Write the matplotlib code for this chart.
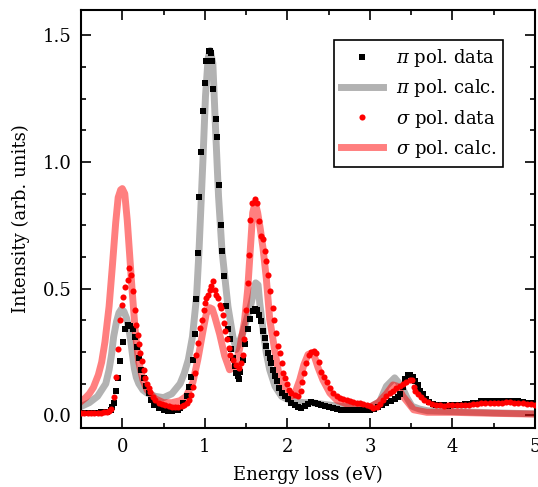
import matplotlib
matplotlib.use("Agg")
import matplotlib.pyplot as plt
from matplotlib.ticker import MultipleLocator

# pi polarisation, measured
pi_x = [-0.50, -0.46, -0.42, -0.38, -0.34, -0.30, -0.26, -0.22, -0.18, -0.14, -0.12, -0.106,
        -0.077, -0.052, -0.024, 0.008, 0.036, 0.065, 0.097, 0.126, 0.15, 0.18, 0.20, 0.23,
        0.26, 0.29, 0.32, 0.35, 0.39, 0.44, 0.50, 0.55, 0.60, 0.64, 0.67, 0.70, 0.74, 0.78,
        0.81, 0.835, 0.855, 0.875, 0.895, 0.915, 0.935, 0.95, 0.975, 1.0, 1.02, 1.045, 1.06,
        1.075, 1.085, 1.105, 1.13, 1.15, 1.17, 1.19, 1.21, 1.23, 1.26, 1.28, 1.30, 1.32, 1.34,
        1.36, 1.38, 1.40, 1.415, 1.43, 1.46, 1.49, 1.52, 1.55, 1.58, 1.61, 1.635, 1.66, 1.685,
        1.705, 1.725, 1.745, 1.765, 1.786, 1.807, 1.83, 1.85, 1.87, 1.90, 1.93, 1.97, 2.01,
        2.05, 2.09, 2.13, 2.17, 2.21, 2.25, 2.29, 2.33, 2.37, 2.41, 2.45, 2.50, 2.55, 2.60,
        2.65, 2.70, 2.75, 2.80, 2.85, 2.90, 2.95, 3.00, 3.05, 3.10, 3.15, 3.20, 3.25, 3.30,
        3.34, 3.37, 3.40, 3.43, 3.46, 3.49, 3.52, 3.55, 3.58, 3.61, 3.64, 3.68, 3.72, 3.76,
        3.80, 3.85, 3.90, 3.95, 4.00, 4.05, 4.10, 4.15, 4.20, 4.25, 4.30, 4.35, 4.40, 4.45,
        4.50, 4.55, 4.60, 4.65, 4.70, 4.75, 4.80, 4.85, 4.90, 4.95, 5.00]
pi_y = [0.010, 0.011, 0.010, 0.011, 0.010, 0.011, 0.012, 0.012, 0.014, 0.022, 0.032, 0.049,
        0.095, 0.148, 0.213, 0.290, 0.340, 0.358, 0.354, 0.340, 0.310, 0.270, 0.226, 0.180,
        0.148, 0.115, 0.088, 0.062, 0.042, 0.029, 0.022, 0.018, 0.018, 0.020, 0.022, 0.030,
        0.050, 0.075, 0.110, 0.150, 0.220, 0.320, 0.460, 0.640, 0.860, 1.040, 1.200, 1.310,
        1.400, 1.440, 1.440, 1.430, 1.400, 1.290, 1.170, 1.100, 0.910, 0.750, 0.650, 0.550,
        0.430, 0.340, 0.300, 0.260, 0.227, 0.193, 0.167, 0.155, 0.145, 0.170, 0.220, 0.280,
        0.340, 0.380, 0.410, 0.420, 0.415, 0.397, 0.371, 0.332, 0.305, 0.272, 0.246, 0.226,
        0.207, 0.180, 0.154, 0.134, 0.108, 0.088, 0.075, 0.066, 0.050, 0.040, 0.032, 0.030,
        0.036, 0.045, 0.052, 0.050, 0.046, 0.042, 0.038, 0.032, 0.028, 0.025, 0.023, 0.022,
        0.022, 0.021, 0.023, 0.022, 0.021, 0.022, 0.026, 0.032, 0.040, 0.050, 0.057, 0.064,
        0.072, 0.085, 0.110, 0.145, 0.158, 0.158, 0.150, 0.134, 0.118, 0.098, 0.083, 0.065,
        0.052, 0.045, 0.042, 0.040, 0.040, 0.038, 0.040, 0.041, 0.042, 0.043, 0.045, 0.047,
        0.050, 0.055, 0.058, 0.058, 0.057, 0.056, 0.055, 0.057, 0.058, 0.056, 0.055, 0.052,
        0.050, 0.049, 0.048]

# sigma polarisation, measured
sig_x = [-0.50, -0.46, -0.42, -0.38, -0.34, -0.30, -0.26, -0.22, -0.18, -0.16, -0.134, -0.106,
         -0.077, -0.052, -0.024, -0.004, 0.012, 0.036, 0.065, 0.085, 0.106, 0.13, 0.15, 0.17,
         0.186, 0.20, 0.22, 0.24, 0.26, 0.28, 0.30, 0.32, 0.34, 0.37, 0.40, 0.44, 0.48, 0.52,
         0.56, 0.60, 0.64, 0.68, 0.72, 0.75, 0.78, 0.81, 0.835, 0.855, 0.875, 0.895, 0.92,
         0.944, 0.964, 0.984, 1.0, 1.02, 1.04, 1.057, 1.078, 1.098, 1.118, 1.139, 1.158, 1.18,
         1.20, 1.215, 1.23, 1.25, 1.27, 1.29, 1.31, 1.34, 1.38, 1.42, 1.44, 1.46, 1.48, 1.50,
         1.52, 1.535, 1.55, 1.576, 1.604, 1.63, 1.656, 1.685, 1.70, 1.725, 1.745, 1.765, 1.795,
         1.82, 1.835, 1.86, 1.89, 1.91, 1.93, 1.95, 1.97, 1.99, 2.02, 2.05, 2.09, 2.13, 2.16,
         2.18, 2.20, 2.23, 2.26, 2.29, 2.32, 2.35, 2.38, 2.41, 2.44, 2.475, 2.515, 2.555, 2.60,
         2.64, 2.68, 2.72, 2.76, 2.80, 2.84, 2.88, 2.92, 2.96, 3.00, 3.04, 3.08, 3.12, 3.16,
         3.20, 3.24, 3.28, 3.32, 3.36, 3.40, 3.44, 3.48, 3.51, 3.53, 3.55, 3.58, 3.62, 3.66,
         3.70, 3.75, 3.80, 3.85, 3.90, 3.95, 4.00, 4.05, 4.10, 4.15, 4.20, 4.25, 4.30, 4.35,
         4.40, 4.45, 4.50, 4.55, 4.60, 4.65, 4.70, 4.75, 4.80, 4.85, 4.90, 4.95, 5.00]
sig_y = [0.010, 0.010, 0.011, 0.010, 0.011, 0.010, 0.011, 0.012, 0.014, 0.016, 0.025, 0.073,
         0.152, 0.263, 0.375, 0.437, 0.466, 0.507, 0.536, 0.580, 0.554, 0.490, 0.417, 0.355,
         0.316, 0.283, 0.246, 0.213, 0.180, 0.148, 0.124, 0.108, 0.091, 0.073, 0.059, 0.049,
         0.043, 0.040, 0.036, 0.034, 0.033, 0.033, 0.036, 0.042, 0.050, 0.062, 0.080, 0.110,
         0.167, 0.240, 0.286, 0.345, 0.378, 0.417, 0.444, 0.463, 0.476, 0.496, 0.509, 0.529,
         0.496, 0.476, 0.463, 0.437, 0.424, 0.397, 0.365, 0.332, 0.300, 0.266, 0.240, 0.220,
         0.200, 0.187, 0.207, 0.240, 0.300, 0.417, 0.523, 0.634, 0.773, 0.838, 0.852, 0.838,
         0.766, 0.707, 0.695, 0.647, 0.608, 0.555, 0.490, 0.424, 0.378, 0.325, 0.272, 0.246,
         0.207, 0.167, 0.148, 0.125, 0.101, 0.088, 0.080, 0.078, 0.095, 0.130, 0.167, 0.207,
         0.240, 0.250, 0.253, 0.245, 0.210, 0.172, 0.150, 0.130, 0.108, 0.088, 0.075, 0.069,
         0.066, 0.062, 0.056, 0.052, 0.050, 0.049, 0.046, 0.042, 0.036, 0.030, 0.033, 0.045,
         0.062, 0.075, 0.088, 0.098, 0.108, 0.115, 0.122, 0.132, 0.138, 0.140, 0.110, 0.095,
         0.086, 0.072, 0.062, 0.054, 0.046, 0.040, 0.039, 0.038, 0.040, 0.040, 0.042, 0.042,
         0.040, 0.040, 0.043, 0.045, 0.047, 0.048, 0.050, 0.050, 0.049, 0.050, 0.051, 0.052,
         0.050, 0.048, 0.047, 0.045, 0.044, 0.042]

# calculated spectra
pi_calc_x = [-0.50, -0.40, -0.30, -0.20, -0.16, -0.13, -0.105, -0.07, -0.04, -0.01, 0.02,
             0.05, 0.08, 0.10, 0.125, 0.146, 0.17, 0.20, 0.25, 0.30, 0.40, 0.50, 0.60, 0.70,
             0.75, 0.80, 0.85, 0.90, 0.93, 0.976, 1.008, 1.04, 1.065, 1.097, 1.13, 1.166,
             1.207, 1.28, 1.34, 1.38, 1.46, 1.56, 1.616, 1.645, 1.665, 1.705, 1.745, 1.786,
             1.85, 1.93, 2.01, 2.10, 2.20, 2.30, 2.40, 2.60, 2.80, 3.00, 3.12, 3.20, 3.30,
             3.385, 3.45, 3.51, 3.60, 3.70, 4.00, 4.50, 5.00]
pi_calc_y = [0.035, 0.050, 0.075, 0.125, 0.180, 0.240, 0.310, 0.370, 0.405, 0.420, 0.410,
             0.385, 0.340, 0.300, 0.235, 0.185, 0.150, 0.125, 0.100, 0.088, 0.075, 0.070,
             0.085, 0.125, 0.165, 0.220, 0.310, 0.470, 0.654, 1.000, 1.260, 1.410, 1.440,
             1.390, 1.130, 0.865, 0.654, 0.430, 0.310, 0.260, 0.325, 0.440, 0.523, 0.515,
             0.444, 0.338, 0.246, 0.180, 0.115, 0.075, 0.062, 0.055, 0.050, 0.050, 0.045,
             0.037, 0.032, 0.032, 0.055, 0.115, 0.148, 0.115, 0.069, 0.036, 0.025, 0.018,
             0.015, 0.010, 0.006]
sig_calc_x = [-0.50, -0.45, -0.40, -0.35, -0.29, -0.25, -0.21, -0.16, -0.12, -0.08, -0.05,
              -0.02, 0.0, 0.03, 0.06, 0.09, 0.12, 0.16, 0.20, 0.25, 0.30, 0.40, 0.50, 0.60,
              0.70, 0.774, 0.855, 0.915, 0.976, 1.017, 1.06, 1.09, 1.12, 1.18, 1.24, 1.30,
              1.36, 1.42, 1.48, 1.52, 1.56, 1.58, 1.61, 1.64, 1.67, 1.705, 1.745, 1.786, 1.85,
              1.91, 1.99, 2.05, 2.10, 2.15, 2.20, 2.25, 2.29, 2.33, 2.37, 2.43, 2.515, 2.60,
              2.80, 3.00, 3.10, 3.20, 3.28, 3.33, 3.40, 3.45, 3.53, 3.69, 4.00, 4.50, 5.00]
sig_calc_y = [0.055, 0.068, 0.085, 0.110, 0.160, 0.210, 0.290, 0.430, 0.590, 0.760, 0.860,
              0.890, 0.895, 0.875, 0.770, 0.630, 0.490, 0.320, 0.210, 0.140, 0.100, 0.065,
              0.050, 0.050, 0.058, 0.075, 0.130, 0.220, 0.330, 0.400, 0.425, 0.420, 0.390,
              0.320, 0.235, 0.180, 0.190, 0.260, 0.370, 0.500, 0.700, 0.800, 0.840, 0.800,
              0.740, 0.660, 0.540, 0.380, 0.250, 0.140, 0.088, 0.075, 0.095, 0.140, 0.200,
              0.240, 0.246, 0.230, 0.190, 0.140, 0.088, 0.060, 0.035, 0.033, 0.050, 0.085,
              0.120, 0.115, 0.075, 0.055, 0.022, 0.012, 0.012, 0.008, 0.005]

plt.rcParams['font.family'] = 'DejaVu Serif'
plt.rcParams['mathtext.fontset'] = 'dejavuserif'
plt.rcParams['font.size'] = 13

fig = plt.figure(figsize=(5.38, 4.87), dpi=100)
ax = fig.add_axes([0.1506, 0.1211, 0.8438, 0.8584])

l_pic, = ax.plot(pi_calc_x, pi_calc_y, color='k', alpha=0.3, lw=5, zorder=1,
                 label=r'$\pi$ pol. calc.')
l_sic, = ax.plot(sig_calc_x, sig_calc_y, color='red', alpha=0.5, lw=5, zorder=2,
                 label=r'$\sigma$ pol. calc.')
l_pid, = ax.plot(pi_x, pi_y, 's', color='k', ms=4, mew=0, zorder=3,
                 label=r'$\pi$ pol. data')
l_sid, = ax.plot(sig_x, sig_y, 'o', color='red', ms=4.4, mew=0, zorder=4,
                 label=r'$\sigma$ pol. data')

ax.set_xlim(-0.5, 5)
ax.set_ylim(-0.05, 1.6)
ax.xaxis.set_major_locator(MultipleLocator(1))
ax.xaxis.set_minor_locator(MultipleLocator(0.5))
ax.yaxis.set_major_locator(MultipleLocator(0.5))
ax.yaxis.set_minor_locator(MultipleLocator(0.125))
ax.tick_params(which='both', direction='in', top=True, right=True, width=1.2, pad=7)
ax.tick_params(which='major', length=7)
ax.tick_params(which='minor', length=3.5)
for s in ax.spines.values():
    s.set_linewidth(1.5)

ax.set_xlabel('Energy loss (eV)', labelpad=7)
ax.set_ylabel('Intensity (arb. units)', labelpad=9)

leg = ax.legend(handles=[l_pid, l_pic, l_sid, l_sic], loc='upper right',
                bbox_to_anchor=(0.93, 0.928), numpoints=1, fancybox=False,
                edgecolor='k', framealpha=1, handlelength=2.3, handletextpad=0.7,
                labelspacing=0.45, borderaxespad=0)
leg.get_frame().set_linewidth(1.2)

fig.savefig('out.png', dpi=100)
